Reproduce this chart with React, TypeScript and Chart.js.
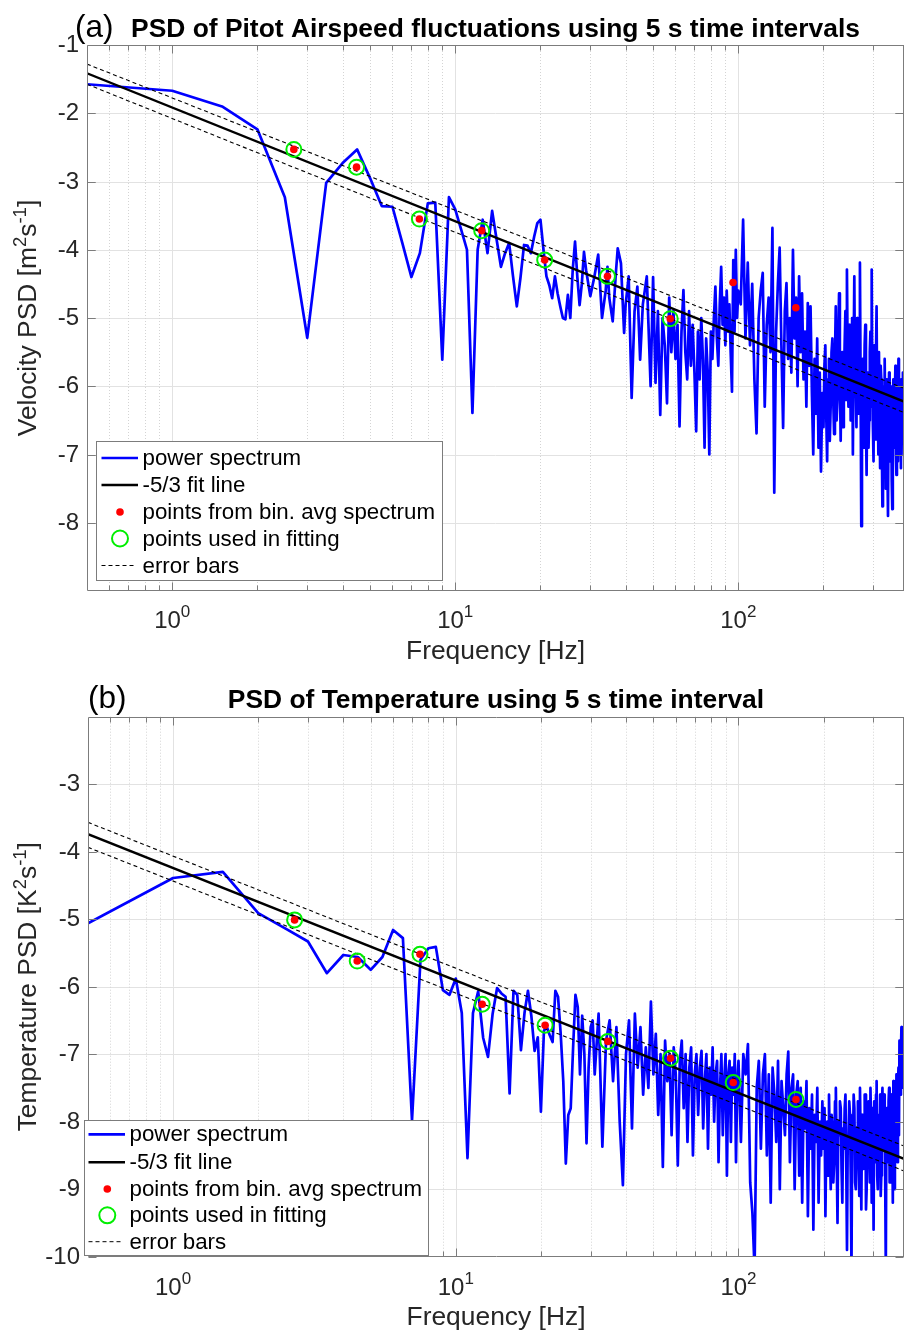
import React, { useEffect, useRef } from "react";
import { Chart, registerables } from "chart.js";

Chart.register(...registerables);

const FONT = '"Liberation Sans", Arial, Helvetica, sans-serif';
const TICK_SIZE = 24;
const TICK_SUP = 17;
const LABEL_SIZE = 26.4;
const LABEL_SUP = 18.5;
const TITLE_SIZE = 26.4;
const TAG_SIZE = 31.5;
const LEGEND_SIZE = 22.3;

// ---------------- axes ----------------
const X_MIN = 0.5;
const X_MAX = 385;
const X_MAJOR = [1, 10, 100];
const X_MAJOR_EXP = ["0", "1", "2"];
const X_MINOR = [0.6, 0.7, 0.8, 0.9, 2, 3, 4, 5, 6, 7, 8, 9, 20, 30, 40, 50, 60, 70, 80, 90, 200, 300];

const A_Y_TICKS = [-1, -2, -3, -4, -5, -6, -7, -8];
const A_Y_GRID = [-2, -3, -4, -5, -6, -7, -8];
const B_Y_TICKS = [-3, -4, -5, -6, -7, -8, -9, -10];
const B_Y_GRID = [-3, -4, -5, -6, -7, -8, -9];

// ---------------- panel (a): airspeed ----------------
const A_SPECTRUM: [number, number][] = [
  [0.5, -1.575], [1, -1.67], [1.5, -1.9], [2, -2.235], [2.5, -3.23], [3, -5.29], [3.5, -3.02], [4, -2.73],
  [4.5, -2.53], [5, -2.95], [5.5, -3.36], [6, -3.37], [6.5, -3.9], [7, -4.4], [7.5, -4.05], [8, -3.32],
  [8.5, -3.31], [9, -5.61], [9.5, -3.23], [10, -3.41], [10.5, -3.71], [11, -4.0], [11.5, -6.39], [12, -4.0],
  [12.5, -3.56], [13, -4.05], [13.5, -3.43], [14, -3.85], [14.5, -4.25], [15, -4.05], [15.5, -3.9], [16, -4.39],
  [16.5, -4.83], [17, -4.41], [17.5, -3.93], [18, -3.94], [18.5, -4.05], [19, -3.81], [19.5, -3.61], [20, -3.56],
  [20.5, -4.0], [21, -4.39], [21.5, -4.52], [22, -4.71], [22.5, -4.39], [23, -4.64], [23.5, -4.83], [24, -5.0],
  [24.5, -5.02], [25, -4.66], [25.5, -5.0], [26, -4.3], [26.5, -3.88], [27, -4.4], [27.5, -4.81], [28, -4.5],
  [28.5, -4.03], [29, -4.3], [30, -4.68], [31, -4.4], [32, -4.07], [33, -5.0], [34, -4.6], [34.5, -4.25],
  [35, -4.7], [36, -5.05], [37, -4.3], [37.5, -3.98], [38.5, -4.2], [39.5, -5.22], [40, -4.8], [41, -4.39],
  [42, -6.17], [43, -4.9], [44, -4.54], [45, -5.61], [46, -4.8], [47.5, -4.39], [49, -6.0],
  [50, -4.4], [51, -5.95], [52, -4.9], [53, -6.42], [54, -5.0], [55, -5.4], [56, -6.25], [57, -4.7],
  [58, -5.5], [59, -4.9], [60, -5.6], [61, -5.1], [62, -6.59], [63, -5.2], [64, -4.59], [65, -5.5],
  [66, -5.9], [67, -4.9], [68, -5.7], [69, -5.1], [70, -5.8], [71, -6.66], [72, -5.2], [73, -5.9],
  [74, -5.0], [75, -5.6], [76, -6.9], [77, -5.3], [78, -5.8], [79, -7.0], [80, -5.2], [81, -5.6],
  [82, -5.0], [83, -4.54], [84, -5.3], [85, -5.7], [86, -4.8], [87, -4.25], [88, -5.1], [89, -4.7],
  [90, -5.4], [91, -4.6], [92, -5.2], [93, -4.8], [94, -5.5], [95, -6.08], [96, -4.15], [97, -5.2],
  [98, -4.0], [99, -5.0], [100, -4.6],
  [102, -4.8], [104, -3.56], [106, -5.3], [108, -4.19], [110, -5.4], [112, -4.5], [114, -5.9], [116, -6.69],
  [118, -5.0], [120, -4.6], [122, -4.34], [124, -6.3], [126, -5.1], [128, -4.7], [130, -5.5], [132, -3.68],
  [134, -7.56], [136, -5.2], [138, -4.5], [140, -3.97], [142, -5.4], [144, -6.61], [146, -4.9], [148, -4.49],
  [150, -5.6], [152, -5.0], [154, -5.8], [156, -4.0], [158, -5.3], [160, -4.7], [162, -6.0], [164, -4.39],
  [166, -5.5], [168, -4.64], [170, -5.9], [172, -5.2], [174, -6.3], [176, -4.78], [178, -5.7], [180, -4.83],
  [182, -6.1], [184, -7.0], [186, -5.6], [188, -6.4], [190, -5.3], [192, -6.9], [194, -5.8], [196, -7.25],
  [198, -6.1],
  [200, -6.6], [201.5, -5.7], [203, -5.4], [204.5, -6.4], [206, -7.1], [207.5, -5.9], [209, -5.6], [210.5, -6.8],
  [212, -6.3], [213.5, -5.5], [215, -5.3], [216.5, -6.2], [218, -6.7], [219.5, -5.6], [221, -4.83], [222.5, -6.5],
  [224, -6.2], [225.5, -5.3], [227, -4.64], [228.5, -5.9], [230, -6.8], [231.5, -5.7], [233, -5.5], [234.5, -6.6],
  [236, -6.0], [237.5, -5.4], [239, -4.9], [240.5, -6.2], [242, -4.29], [243.5, -5.6], [245, -6.3], [246.5, -5.1],
  [248, -5.2], [249.5, -6.5], [251, -5.8], [252.5, -5.0], [254, -7.0], [255.5, -5.6], [257, -4.39], [258.5, -6.1],
  [260, -5.9], [261.5, -6.6], [263, -5.0], [264.5, -5.8], [266, -6.4], [267.5, -5.3], [269, -4.19], [270.5, -6.0],
  [272, -8.05], [273.5, -6.3], [275, -5.6], [276.5, -6.9], [278, -6.2], [279.5, -5.4], [281, -5.1], [282.5, -6.5],
  [284, -7.3], [285.5, -6.0], [287, -5.8], [288.5, -6.9], [290, -6.5], [291.5, -5.5], [293, -5.2], [294.5, -6.3],
  [296, -4.29], [297.5, -5.9], [299, -6.6], [300.5, -7.1], [302, -5.4], [303.5, -6.2], [305, -6.78], [306.5, -5.6],
  [308, -4.83], [309.5, -6.4], [311, -6.0], [312.5, -7.0], [314, -5.5], [315.5, -6.3], [317, -7.2], [318.5, -5.7],
  [320, -5.9], [321.5, -6.9], [323, -7.76], [324.5, -6.0], [326, -6.1], [327.5, -7.3], [329, -5.6], [330.5, -6.5],
  [332, -7.5], [333.5, -5.9], [335, -6.0], [336.5, -7.2], [338, -7.9], [339.5, -6.3], [341, -5.8], [342.5, -6.9],
  [344, -7.1], [345.5, -6.0], [347, -6.4], [348.5, -7.4], [350, -7.8], [351.5, -6.2], [353, -5.9], [354.5, -6.9],
  [356, -6.8], [357.5, -6.1], [359, -5.7], [360.5, -7.0], [362, -7.3], [363.5, -6.0], [365, -6.2], [366.5, -7.1],
  [368, -5.6], [369.5, -6.5], [371, -7.0], [372.5, -6.1], [374, -6.3], [375.5, -7.2], [377, -5.9], [378.5, -6.6],
  [380, -6.8], [381.5, -5.8], [383, -6.0], [384.5, -7.0], [386, -6.5],
];

const BIN_FREQ = [2.69, 4.48, 7.47, 12.4, 20.7, 34.5, 57.5, 95.8, 159.7];
const A_BIN_PSD = [-2.53, -2.79, -3.55, -3.72, -4.15, -4.39, -5.01, -4.48, -4.85];
const A_USED_FREQ = [2.69, 4.48, 7.47, 12.4, 20.7, 34.5, 57.5];
const A_USED_PSD = [-2.53, -2.79, -3.55, -3.72, -4.15, -4.39, -5.01];

const FIT_FREQ = [0.5, 385];
const A_FIT = [-1.414, -6.225];
const A_ERR_UP = [-1.28, -6.03];
const A_ERR_LO = [-1.575, -6.385];

// ---------------- panel (b): temperature ----------------
const B_SPECTRUM: [number, number][] = [
  [0.5, -5.06], [1, -4.39], [1.5, -4.3], [2, -4.91], [2.5, -5.14], [3, -5.33], [3.5, -5.8], [4, -5.53],
  [4.5, -5.56], [5, -5.75], [5.5, -5.56], [6, -5.16], [6.5, -5.28], [7, -7.98], [7.5, -5.6], [8, -5.43],
  [8.5, -5.41], [9, -6.05], [9.5, -6.12], [10, -5.88], [10.5, -6.39], [11, -8.54], [11.5, -6.39], [12, -6.07],
  [12.5, -6.76], [13, -7.04], [13.5, -6.4], [14, -6.02], [14.5, -6.1], [15, -6.15], [15.5, -7.58], [16, -6.06],
  [16.5, -6.12], [17, -6.94], [17.5, -6.39], [18, -6.06], [18.5, -6.43], [19, -6.95], [19.5, -6.75], [20, -7.85],
  [20.5, -6.65], [21, -6.6], [21.5, -6.72], [22, -6.82], [22.5, -6.06], [23, -6.15], [23.5, -6.7], [24, -7.4],
  [24.5, -8.62], [25, -7.9], [25.5, -7.8], [26, -6.9], [26.5, -6.12], [27, -6.3], [27.5, -7.3], [28, -6.43],
  [28.5, -7.0], [29, -8.32], [29.5, -7.2], [30, -6.6], [30.5, -6.5], [31, -7.3], [32, -6.4], [33, -8.37],
  [34, -6.8], [35, -6.5], [36, -7.4], [37, -6.6], [38, -8.0], [39, -8.94], [40, -7.0], [41, -6.5],
  [42, -8.1], [43, -6.4], [44, -7.2], [45, -6.6], [46, -7.6], [47, -6.9], [48, -7.5], [49, -6.22],
  [50, -7.3], [51, -6.7], [52, -7.9], [53, -7.0], [54, -8.67], [55, -6.8], [56, -7.4], [57, -7.0],
  [58, -8.2], [59, -6.9], [60, -7.3], [61, -8.65], [62, -7.1], [63, -6.8], [64, -7.8], [65, -7.0],
  [66, -8.3], [67, -7.2], [68, -6.9], [69, -8.5], [70, -7.3], [71, -7.0], [72, -7.9], [73, -7.2],
  [74, -6.95], [75, -8.1], [76, -7.4], [77, -7.0], [78, -8.4], [79, -7.2], [80, -7.6], [81, -6.9],
  [82, -8.0], [83, -7.3], [84, -7.1], [85, -8.6], [86, -7.5], [87, -7.0], [88, -8.2], [89, -7.4],
  [90, -7.0], [91, -8.8], [92, -7.3], [93, -7.1], [94, -8.3], [95, -7.2], [96, -7.6], [97, -7.0],
  [98, -8.6], [99, -7.4], [100, -7.1],
  [102, -8.3], [104, -7.0], [106, -7.3], [108, -6.85], [110, -8.9], [112, -9.35], [114, -10.2], [116, -7.5],
  [118, -7.1], [120, -8.4], [122, -7.3], [124, -7.0], [126, -8.5], [128, -7.3], [130, -9.2], [132, -7.2],
  [134, -7.6], [136, -8.3], [138, -7.1], [140, -9.0], [142, -7.4], [144, -7.8], [146, -8.2], [148, -7.3],
  [150, -6.96], [152, -8.6], [154, -7.5], [156, -7.3], [158, -9.0], [160, -7.6], [162, -7.4], [164, -8.8],
  [166, -7.5], [168, -9.2], [170, -7.7], [172, -8.1], [174, -7.4], [176, -9.4], [178, -7.8], [180, -8.4],
  [182, -7.6], [184, -9.6], [186, -7.9], [188, -8.3], [190, -7.5], [192, -9.2], [194, -8.0], [196, -8.5],
  [198, -7.7],
  [200, -8.4], [201.5, -7.8], [203, -9.4], [204.5, -8.2], [206, -8.0], [207.5, -8.8], [209, -7.6], [210.5, -8.4],
  [212, -9.0], [213.5, -7.9], [215, -8.1], [216.5, -8.9], [218, -8.6], [219.5, -7.7], [221, -7.5], [222.5, -8.5],
  [224, -9.5], [225.5, -8.0], [227, -8.2], [228.5, -7.7], [230, -7.8], [231.5, -8.7], [233, -9.2], [234.5, -8.1],
  [236, -8.4], [237.5, -7.8], [239, -7.6], [240.5, -8.6], [242, -9.9], [243.5, -8.2], [245, -8.3], [246.5, -7.7],
  [248, -7.9], [249.5, -8.8], [251, -10.2], [252.5, -8.0], [254, -8.4], [255.5, -7.6], [257, -7.8], [258.5, -8.9],
  [260, -9.0], [261.5, -8.1], [263, -8.2], [264.5, -7.7], [266, -8.6], [267.5, -9.1], [269, -7.5], [270.5, -8.3],
  [272, -9.3], [273.5, -7.9], [275, -8.1], [276.5, -8.7], [278, -8.5], [279.5, -7.6], [281, -7.6], [282.5, -9.3],
  [284, -9.0], [285.5, -8.2], [287, -8.0], [288.5, -7.7], [290, -8.4], [291.5, -8.9], [293, -7.5], [294.5, -8.1],
  [296, -9.2], [297.5, -7.8], [299, -8.0], [300.5, -9.6], [302, -7.7], [303.5, -8.3], [305, -8.6], [306.5, -7.6],
  [308, -7.4], [309.5, -8.8], [311, -9.0], [312.5, -8.0], [314, -7.9], [315.5, -8.5], [317, -7.6], [318.5, -9.1],
  [320, -8.8], [321.5, -7.8], [323, -7.5], [324.5, -8.4], [326, -8.3], [327.5, -7.6], [329, -7.7], [330.5, -9.0],
  [332, -10.2], [333.5, -8.1], [335, -7.8], [336.5, -8.6], [338, -8.2], [339.5, -7.7], [341, -7.5], [342.5, -8.9],
  [344, -8.9], [345.5, -7.9], [347, -7.6], [348.5, -8.4], [350, -8.0], [351.5, -9.2], [353, -7.4], [354.5, -8.1],
  [356, -9.0], [357.5, -7.7], [359, -7.5], [360.5, -8.5], [362, -7.3], [363.5, -7.9], [365, -8.6], [366.5, -7.5],
  [368, -7.2], [369.5, -8.2], [371, -6.8], [372.5, -7.6], [374, -7.6], [375.5, -7.0], [377, -6.6], [378.5, -7.5],
  [380, -7.4], [381.5, -6.9], [383, -6.7], [384.5, -7.3], [386, -7.0],
];

const B_BIN_PSD = [-5.01, -5.62, -5.52, -6.26, -6.57, -6.81, -7.06, -7.42, -7.67];
const B_USED_FREQ = [2.69, 4.48, 7.47, 12.4, 20.7, 34.5, 57.5, 95.8, 159.7];
const B_USED_PSD = [-5.01, -5.62, -5.52, -6.26, -6.57, -6.81, -7.06, -7.42, -7.67];
const B_FIT = [-3.74, -8.55];
const B_ERR_UP = [-3.565, -8.36];
const B_ERR_LO = [-3.935, -8.73];

const LEGEND_LABELS = [
  "power spectrum",
  "-5/3 fit line",
  "points from bin. avg spectrum",
  "points used in fitting",
  "error bars",
];

type Seg = { t: string; sup?: boolean };

type Panel = {
  canvasTop: number;
  canvasHeight: number;
  area: { left: number; top: number; right: number; bottom: number }; // page coordinates
  yMin: number;
  yMax: number;
  yTicks: number[];
  yGrid: number[];
  spectrum: [number, number][];
  binPsd: number[];
  usedF: number[];
  usedV: number[];
  fit: number[];
  errUp: number[];
  errLo: number[];
  tag: string;
  tagX: number;
  title: string;
  titleBase: number;
  yLabel: Seg[];
  yLabelX: number;
  yTickRight: number;
  xTickBase: number;
  xLabelBase: number;
  legend: { x0: number; y0: number; x1: number; y1: number; rows: number[]; s0: number; s1: number; mx: number; tx: number };
};

const PANELS: Panel[] = [
  {
    canvasTop: 0,
    canvasHeight: 670,
    area: { left: 87, top: 45, right: 904, bottom: 591 },
    yMin: -9,
    yMax: -1,
    yTicks: A_Y_TICKS,
    yGrid: A_Y_GRID,
    spectrum: A_SPECTRUM,
    binPsd: A_BIN_PSD,
    usedF: A_USED_FREQ,
    usedV: A_USED_PSD,
    fit: A_FIT,
    errUp: A_ERR_UP,
    errLo: A_ERR_LO,
    tag: "(a)",
    tagX: 75,
    title: "PSD of Pitot Airspeed fluctuations using 5 s time intervals",
    titleBase: 36.5,
    yLabel: [{ t: "Velocity PSD [m" }, { t: "2", sup: true }, { t: "s" }, { t: "-1", sup: true }, { t: "]" }],
    yLabelX: 36,
    yTickRight: 79,
    xTickBase: 627.5,
    xLabelBase: 658.5,
    legend: { x0: 96.5, y0: 441.5, x1: 442.5, y1: 580.5, rows: [458, 485, 512, 538.5, 565.5], s0: 101.5, s1: 138, mx: 120, tx: 142.5 },
  },
  {
    canvasTop: 670,
    canvasHeight: 662,
    area: { left: 88, top: 716.7, right: 904, bottom: 1256.7 },
    yMin: -10,
    yMax: -2,
    yTicks: B_Y_TICKS,
    yGrid: B_Y_GRID,
    spectrum: B_SPECTRUM,
    binPsd: B_BIN_PSD,
    usedF: B_USED_FREQ,
    usedV: B_USED_PSD,
    fit: B_FIT,
    errUp: B_ERR_UP,
    errLo: B_ERR_LO,
    tag: "(b)",
    tagX: 88,
    title: "PSD of Temperature using 5 s time interval",
    titleBase: 708.3,
    yLabel: [{ t: "Temperature PSD [K" }, { t: "2", sup: true }, { t: "s" }, { t: "-1", sup: true }, { t: "]" }],
    yLabelX: 36,
    yTickRight: 80,
    xTickBase: 1295,
    xLabelBase: 1325,
    legend: { x0: 84.5, y0: 1120.5, x1: 428.5, y1: 1255.5, rows: [1134.3, 1162.3, 1189, 1215.3, 1241.7], s0: 88.5, s1: 125, mx: 107.3, tx: 129.5 },
  },
];

function setFont(ctx: CanvasRenderingContext2D, size: number, weight = "normal") {
  ctx.font = `${weight} ${size}px ${FONT}`;
}

function richWidth(ctx: CanvasRenderingContext2D, segs: Seg[], size: number, supSize: number) {
  let w = 0;
  for (const s of segs) {
    setFont(ctx, s.sup ? supSize : size);
    w += ctx.measureText(s.t).width;
  }
  return w;
}

function drawRich(ctx: CanvasRenderingContext2D, segs: Seg[], x: number, y: number, size: number, supSize: number, rise: number) {
  let cx = x;
  ctx.textAlign = "left";
  ctx.textBaseline = "alphabetic";
  for (const s of segs) {
    setFont(ctx, s.sup ? supSize : size);
    ctx.fillText(s.t, cx, s.sup ? y - rise : y);
    cx += ctx.measureText(s.t).width;
  }
}

function makePlugin(p: Panel) {
  return {
    id: "matlabDecor",
    beforeDatasetsDraw(chart: any) {
      const ctx: CanvasRenderingContext2D = chart.ctx;
      const xs = chart.scales.x;
      const ys = chart.scales.y;
      const a = chart.chartArea;
      ctx.save();
      ctx.lineWidth = 1;
      ctx.strokeStyle = "#e2e2e2";
      for (const v of p.yGrid) {
        const y = Math.round(ys.getPixelForValue(v)) + 0.5;
        ctx.beginPath();
        ctx.moveTo(a.left, y);
        ctx.lineTo(a.right, y);
        ctx.stroke();
      }
      ctx.strokeStyle = "#d4d4d4";
      ctx.setLineDash([1, 2]);
      for (const v of X_MINOR) {
        const x = Math.round(xs.getPixelForValue(v)) + 0.5;
        ctx.beginPath();
        ctx.moveTo(x, a.top);
        ctx.lineTo(x, a.bottom);
        ctx.stroke();
      }
      ctx.setLineDash([]);
      ctx.strokeStyle = "#e2e2e2";
      for (const v of X_MAJOR) {
        const x = Math.round(xs.getPixelForValue(v)) + 0.5;
        ctx.beginPath();
        ctx.moveTo(x, a.top);
        ctx.lineTo(x, a.bottom);
        ctx.stroke();
      }
      ctx.restore();
    },
    afterDatasetsDraw(chart: any) {
      const ctx: CanvasRenderingContext2D = chart.ctx;
      const xs = chart.scales.x;
      const ys = chart.scales.y;
      const a = chart.chartArea;
      const off = p.canvasTop;
      ctx.save();
      // axes box
      ctx.strokeStyle = "#7c7c7c";
      ctx.lineWidth = 1;
      const L = Math.round(a.left) + 0.5;
      const T = Math.round(a.top) + 0.5;
      const B = Math.round(a.bottom) - 0.5;
      const R = Math.round(a.right) - 0.5;
      ctx.beginPath();
      ctx.moveTo(L, T);
      ctx.lineTo(R + 1, T);
      ctx.moveTo(L, B);
      ctx.lineTo(R + 1, B);
      ctx.moveTo(L, T);
      ctx.lineTo(L, B);
      ctx.moveTo(R, T);
      ctx.lineTo(R, B);
      for (const v of X_MAJOR) {
        const x = Math.round(xs.getPixelForValue(v)) + 0.5;
        ctx.moveTo(x, B);
        ctx.lineTo(x, B - 8);
        ctx.moveTo(x, T);
        ctx.lineTo(x, T + 8);
      }
      for (const v of X_MINOR) {
        const x = Math.round(xs.getPixelForValue(v)) + 0.5;
        ctx.moveTo(x, B);
        ctx.lineTo(x, B - 5);
        ctx.moveTo(x, T);
        ctx.lineTo(x, T + 5);
      }
      for (const v of p.yTicks.concat(p.yGrid)) {
        const y = Math.round(ys.getPixelForValue(v)) + 0.5;
        ctx.moveTo(L, y);
        ctx.lineTo(L + 8, y);
        ctx.moveTo(R, y);
        ctx.lineTo(R - 8, y);
      }
      ctx.stroke();

      // y tick labels
      ctx.fillStyle = "#262626";
      setFont(ctx, TICK_SIZE);
      ctx.textAlign = "right";
      ctx.textBaseline = "middle";
      for (const v of p.yTicks) {
        ctx.fillText(String(v), p.yTickRight, ys.getPixelForValue(v) + 0.5);
      }
      // x tick labels 10^n
      X_MAJOR.forEach((v, i) => {
        const segs: Seg[] = [{ t: "10" }, { t: X_MAJOR_EXP[i], sup: true }];
        const w = richWidth(ctx, segs, TICK_SIZE, TICK_SUP);
        drawRich(ctx, segs, xs.getPixelForValue(v) - w / 2, p.xTickBase - off, TICK_SIZE, TICK_SUP, 11);
      });
      // x axis label
      setFont(ctx, LABEL_SIZE);
      ctx.textAlign = "center";
      ctx.textBaseline = "alphabetic";
      ctx.fillText("Frequency [Hz]", (a.left + a.right) / 2, p.xLabelBase - off);
      // y axis label, rotated
      {
        const w = richWidth(ctx, p.yLabel, LABEL_SIZE, LABEL_SUP);
        ctx.save();
        ctx.translate(p.yLabelX, (a.top + a.bottom) / 2);
        ctx.rotate(-Math.PI / 2);
        drawRich(ctx, p.yLabel, -w / 2, 0, LABEL_SIZE, LABEL_SUP, 10);
        ctx.restore();
      }
      // tag and title
      ctx.fillStyle = "#000";
      setFont(ctx, TAG_SIZE);
      ctx.textAlign = "left";
      ctx.textBaseline = "alphabetic";
      ctx.fillText(p.tag, p.tagX, p.titleBase - off);
      setFont(ctx, TITLE_SIZE, "bold");
      ctx.textAlign = "center";
      ctx.fillText(p.title, (a.left + a.right) / 2, p.titleBase - off);

      // legend
      const lg = p.legend;
      const r = lg.rows.map((y) => y - off);
      const y0 = lg.y0 - off;
      const y1 = lg.y1 - off;
      ctx.fillStyle = "#ffffff";
      ctx.fillRect(lg.x0, y0, lg.x1 - lg.x0, y1 - y0);
      ctx.strokeStyle = "#7c7c7c";
      ctx.lineWidth = 1;
      ctx.strokeRect(lg.x0, y0, lg.x1 - lg.x0, y1 - y0);
      ctx.lineWidth = 2.7;
      ctx.strokeStyle = "#0000ff";
      ctx.beginPath();
      ctx.moveTo(lg.s0, r[0]);
      ctx.lineTo(lg.s1, r[0]);
      ctx.stroke();
      ctx.lineWidth = 2.4;
      ctx.strokeStyle = "#000000";
      ctx.beginPath();
      ctx.moveTo(lg.s0, r[1]);
      ctx.lineTo(lg.s1, r[1]);
      ctx.stroke();
      ctx.fillStyle = "#ff0000";
      ctx.beginPath();
      ctx.arc(lg.mx, r[2], 3.8, 0, Math.PI * 2);
      ctx.fill();
      ctx.strokeStyle = "#00ee00";
      ctx.lineWidth = 2;
      ctx.beginPath();
      ctx.arc(lg.mx, r[3], 8, 0, Math.PI * 2);
      ctx.stroke();
      ctx.strokeStyle = "#000000";
      ctx.lineWidth = 1;
      ctx.setLineDash([4, 3]);
      ctx.beginPath();
      ctx.moveTo(lg.s0, r[4]);
      ctx.lineTo(lg.s1 - 3, r[4]);
      ctx.stroke();
      ctx.setLineDash([]);
      ctx.fillStyle = "#000";
      setFont(ctx, LEGEND_SIZE);
      ctx.textAlign = "left";
      ctx.textBaseline = "middle";
      LEGEND_LABELS.forEach((t, i) => ctx.fillText(t, lg.tx, r[i] + 1));
      ctx.restore();
    },
  };
}

function makeChart(canvas: HTMLCanvasElement, p: Panel) {
  const pts = (f: number[], v: number[]) => f.map((x, i) => ({ x, y: v[i] }));
  const pad = {
    left: p.area.left,
    top: p.area.top - p.canvasTop,
    right: 904 - p.area.right,
    bottom: p.canvasTop + p.canvasHeight - p.area.bottom,
  };
  return new Chart(canvas, {
    type: "line",
    data: {
      datasets: [
        {
          label: "used",
          data: pts(p.usedF, p.usedV),
          showLine: false,
          pointRadius: 7.5,
          pointBorderWidth: 2,
          pointBorderColor: "#00ee00",
          pointBackgroundColor: "rgba(0,0,0,0)",
        },
        {
          label: "bin",
          data: pts(BIN_FREQ, p.binPsd),
          showLine: false,
          pointRadius: 3.8,
          pointBorderWidth: 0,
          pointBackgroundColor: "#ff0000",
        },
        {
          label: "errUp",
          data: pts(FIT_FREQ, p.errUp),
          borderColor: "#000",
          borderWidth: 1.1,
          borderDash: [4, 3],
          pointRadius: 0,
        },
        {
          label: "errLo",
          data: pts(FIT_FREQ, p.errLo),
          borderColor: "#000",
          borderWidth: 1.1,
          borderDash: [4, 3],
          pointRadius: 0,
        },
        {
          label: "fit",
          data: pts(FIT_FREQ, p.fit),
          borderColor: "#000",
          borderWidth: 2.4,
          pointRadius: 0,
        },
        {
          label: "spectrum",
          data: p.spectrum.map(([x, y]) => ({ x, y })),
          borderColor: "#0000ff",
          borderWidth: 2.7,
          pointRadius: 0,
          tension: 0,
          borderJoinStyle: "round" as const,
        },
      ],
    },
    options: {
      animation: false,
      responsive: false,
      events: [],
      layout: { padding: pad, autoPadding: false },
      plugins: { legend: { display: false }, tooltip: { enabled: false }, title: { display: false } },
      scales: {
        x: { type: "logarithmic", min: X_MIN, max: X_MAX, display: false },
        y: { type: "linear", min: p.yMin, max: p.yMax, display: false },
      },
    },
    plugins: [makePlugin(p)],
  } as any);
}

export default function App() {
  const refA = useRef<HTMLCanvasElement>(null);
  const refB = useRef<HTMLCanvasElement>(null);
  useEffect(() => {
    const charts = [makeChart(refA.current!, PANELS[0]), makeChart(refB.current!, PANELS[1])];
    return () => charts.forEach((c) => c.destroy());
  }, []);
  return (
    <div style={{ position: "absolute", left: 0, top: 0, width: 904, height: 1332, background: "#fff", overflow: "hidden" }}>
      <canvas ref={refA} width={904} height={PANELS[0].canvasHeight} style={{ position: "absolute", left: 0, top: PANELS[0].canvasTop, width: 904, height: PANELS[0].canvasHeight }} />
      <canvas ref={refB} width={904} height={PANELS[1].canvasHeight} style={{ position: "absolute", left: 0, top: PANELS[1].canvasTop, width: 904, height: PANELS[1].canvasHeight }} />
    </div>
  );
}
